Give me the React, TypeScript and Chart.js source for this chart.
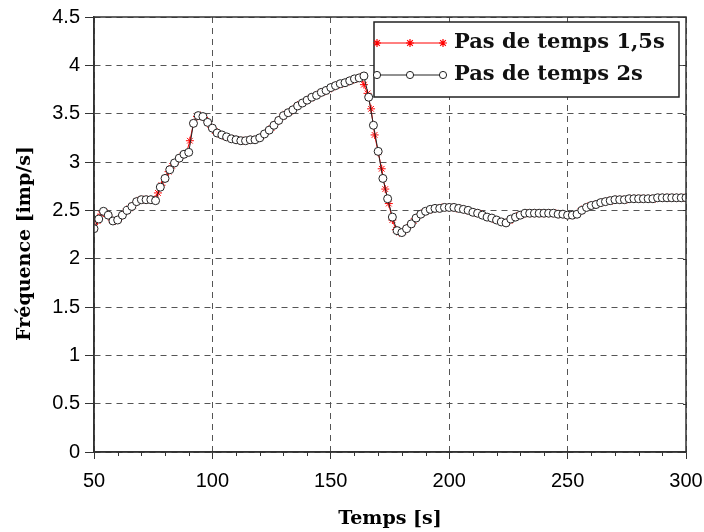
import React, { useEffect, useRef } from 'react';
import { Chart, registerables } from 'chart.js';

Chart.register(...registerables);

// ---- data ----
const T_START = 50;
const STEP_A = 1.5;
const STEP_B = 2;

const LABEL_A = 'Pas de temps 1,5s';
const LABEL_B = 'Pas de temps 2s';
const X_TITLE = 'Temps [s]';
const Y_TITLE = 'Fréquence [imp/s]';

const X_MIN = 50;
const X_MAX = 300;
const X_STEP = 50;
const X_MINOR_STEP = 10;
const Y_MIN = 0;
const Y_MAX = 4.5;
const Y_STEP = 0.5;

// Pas de temps 1,5s (t = 50, 51.5, ..., 299)
const FREQ_15S = [
  2.31, 2.39, 2.46, 2.48, 2.45, 2.40, 2.39, 2.41, 2.45, 2.49,
  2.52, 2.55, 2.59, 2.61, 2.61, 2.61, 2.61, 2.61, 2.68, 2.76,
  2.83, 2.90, 2.96, 3.00, 3.04, 3.07, 3.09, 3.22, 3.40, 3.47,
  3.48, 3.46, 3.41, 3.36, 3.32, 3.29, 3.28, 3.26, 3.25, 3.24,
  3.23, 3.22, 3.22, 3.22, 3.23, 3.23, 3.24, 3.26, 3.29, 3.32,
  3.35, 3.39, 3.43, 3.47, 3.50, 3.52, 3.54, 3.57, 3.60, 3.62,
  3.64, 3.66, 3.68, 3.70, 3.72, 3.73, 3.75, 3.77, 3.79, 3.80,
  3.81, 3.82, 3.84, 3.85, 3.86, 3.88, 3.80, 3.71, 3.55, 3.28,
  3.10, 2.93, 2.72, 2.57, 2.40, 2.30, 2.27, 2.28, 2.31, 2.35,
  2.39, 2.43, 2.46, 2.48, 2.50, 2.51, 2.52, 2.52, 2.53, 2.53,
  2.53, 2.53, 2.52, 2.52, 2.51, 2.50, 2.49, 2.48, 2.47, 2.46,
  2.44, 2.43, 2.42, 2.40, 2.39, 2.38, 2.37, 2.39, 2.42, 2.44,
  2.45, 2.46, 2.47, 2.47, 2.47, 2.47, 2.47, 2.47, 2.47, 2.47,
  2.47, 2.46, 2.46, 2.45, 2.45, 2.45, 2.46, 2.49, 2.52, 2.54,
  2.55, 2.56, 2.57, 2.58, 2.59, 2.60, 2.60, 2.61, 2.61, 2.61,
  2.61, 2.62, 2.62, 2.62, 2.62, 2.62, 2.62, 2.62, 2.62, 2.63,
  2.63, 2.63, 2.63, 2.63, 2.63, 2.63, 2.63,
];

// Pas de temps 2s (t = 50, 52, ..., 300)
const FREQ_2S = [
  2.31, 2.41, 2.49, 2.45, 2.39, 2.40, 2.45, 2.50, 2.54, 2.59,
  2.61, 2.61, 2.61, 2.60, 2.74, 2.83, 2.92, 2.99, 3.04, 3.08,
  3.10, 3.40, 3.48, 3.47, 3.41, 3.35, 3.30, 3.28, 3.26, 3.24,
  3.23, 3.22, 3.22, 3.23, 3.23, 3.25, 3.29, 3.33, 3.38, 3.43,
  3.48, 3.51, 3.54, 3.58, 3.61, 3.64, 3.67, 3.69, 3.72, 3.74,
  3.77, 3.79, 3.81, 3.82, 3.84, 3.86, 3.87, 3.89, 3.67, 3.38,
  3.11, 2.83, 2.62, 2.43, 2.29, 2.27, 2.31, 2.36, 2.42, 2.46,
  2.49, 2.51, 2.52, 2.52, 2.53, 2.53, 2.53, 2.52, 2.51, 2.50,
  2.48, 2.47, 2.45, 2.43, 2.42, 2.40, 2.38, 2.37, 2.41, 2.43,
  2.45, 2.47, 2.47, 2.47, 2.47, 2.47, 2.47, 2.47, 2.46, 2.46,
  2.45, 2.45, 2.46, 2.50, 2.53, 2.55, 2.56, 2.58, 2.59, 2.60,
  2.61, 2.61, 2.61, 2.62, 2.62, 2.62, 2.62, 2.62, 2.62, 2.63,
  2.63, 2.63, 2.63, 2.63, 2.63, 2.63,
];

const toPoints = (vals: number[], step: number) =>
  vals.map((y, i) => ({ x: T_START + i * step, y }));

const SERIF = "'DejaVu Serif', 'Liberation Serif', serif";
const SANS = "'Liberation Sans', Arial, sans-serif";

function drawStar(ctx: CanvasRenderingContext2D, x: number, y: number, r: number) {
  ctx.beginPath();
  for (let k = 0; k < 4; k++) {
    const a = (k * Math.PI) / 4;
    ctx.moveTo(x - r * Math.cos(a), y - r * Math.sin(a));
    ctx.lineTo(x + r * Math.cos(a), y + r * Math.sin(a));
  }
  ctx.stroke();
}

const minorTicksPlugin = {
  id: 'minorTicks',
  afterDraw(chart: any) {
    const ctx = chart.ctx;
    const xs = chart.scales.x;
    const ys = chart.scales.y;
    const { bottom, right } = chart.chartArea;
    ctx.save();
    ctx.strokeStyle = '#333';
    ctx.lineWidth = 1;
    for (let v = X_MIN; v <= X_MAX; v += X_MINOR_STEP) {
      if (v % X_STEP === 0) continue;
      const px = Math.round(xs.getPixelForValue(v)) + 0.5;
      ctx.beginPath();
      ctx.moveTo(px, bottom);
      ctx.lineTo(px, bottom + 4);
      ctx.stroke();
    }
    for (let v = Y_MIN; v <= Y_MAX + 1e-9; v += Y_STEP) {
      const py = Math.round(ys.getPixelForValue(v)) + 0.5;
      ctx.beginPath();
      ctx.moveTo(right - 3, py);
      ctx.lineTo(right, py);
      ctx.stroke();
    }
    ctx.restore();
  },
};

const framePlugin = {
  id: 'frame',
  afterDraw(chart: any) {
    const ctx = chart.ctx;
    const { left, right, top, bottom } = chart.chartArea;
    ctx.save();
    ctx.strokeStyle = '#333';
    ctx.lineWidth = 1.5;
    ctx.strokeRect(left, top, right - left, bottom - top);
    ctx.restore();
  },
};

const yTitlePlugin = {
  id: 'yTitle',
  afterDraw(chart: any) {
    const ctx = chart.ctx;
    const { top, bottom } = chart.chartArea;
    ctx.save();
    ctx.translate(25, (top + bottom) / 2 + 9);
    ctx.rotate(-Math.PI / 2);
    ctx.fillStyle = '#000';
    ctx.font = `bold 19px ${SERIF}`;
    ctx.textAlign = 'center';
    ctx.textBaseline = 'middle';
    ctx.fillText(Y_TITLE, 0, 0);
    ctx.restore();
  },
};

const legendPlugin = {
  id: 'boxLegend',
  afterDraw(chart: any) {
    const ctx = chart.ctx;
    const ds = chart.data.datasets;
    const { right, top } = chart.chartArea;
    const boxW = 305;
    const boxH = 75;
    const bx = right - 7 - boxW;
    const by = top + 5;
    ctx.save();
    ctx.fillStyle = '#fff';
    ctx.fillRect(bx, by, boxW, boxH);
    ctx.strokeStyle = '#222';
    ctx.lineWidth = 1.5;
    ctx.strokeRect(bx, by, boxW, boxH);
    const rows = [by + 21, by + 53];
    ds.forEach((d: any, i: number) => {
      const y = rows[i];
      const x0 = bx + 3;
      const x1 = bx + 69;
      ctx.strokeStyle = d.borderColor;
      ctx.lineWidth = 1;
      ctx.beginPath();
      ctx.moveTo(x0, y);
      ctx.lineTo(x1, y);
      ctx.stroke();
      [x0, (x0 + x1) / 2, x1].forEach((mx) => {
        if (d.pointStyle === 'star') {
          ctx.strokeStyle = d.pointBorderColor;
          ctx.lineWidth = 1.2;
          drawStar(ctx, mx, y, 4);
        } else {
          ctx.fillStyle = '#fff';
          ctx.strokeStyle = d.pointBorderColor;
          ctx.lineWidth = 1;
          ctx.beginPath();
          ctx.arc(mx, y, 3.6, 0, Math.PI * 2);
          ctx.fill();
          ctx.stroke();
        }
      });
      ctx.fillStyle = '#111';
      ctx.font = `bold 21px ${SERIF}`;
      ctx.textAlign = 'left';
      ctx.textBaseline = 'middle';
      ctx.fillText(d.label, bx + 80, y);
    });
    ctx.restore();
  },
};

export default function App() {
  const ref = useRef<HTMLCanvasElement | null>(null);

  useEffect(() => {
    document.body.style.margin = '0';
    const canvas = ref.current;
    if (!canvas) return;
    const chart = new Chart(canvas, {
      type: 'line',
      data: {
        datasets: [
          {
            label: LABEL_A,
            data: toPoints(FREQ_15S, STEP_A),
            borderColor: '#ff0000',
            borderWidth: 1,
            pointStyle: 'star',
            pointRadius: 4,
            pointBorderColor: '#ff0000',
            pointBorderWidth: 1,
            pointBackgroundColor: '#ff0000',
            fill: false,
            tension: 0,
            order: 1,
          } as any,
          {
            label: LABEL_B,
            data: toPoints(FREQ_2S, STEP_B),
            borderColor: '#222',
            borderWidth: 1,
            pointStyle: 'circle',
            pointRadius: 4,
            pointBorderColor: '#222',
            pointBorderWidth: 1,
            pointBackgroundColor: '#ffffff',
            fill: false,
            tension: 0,
            order: 0,
          } as any,
        ],
      },
      options: {
        animation: false,
        responsive: false,
        events: [],
        layout: { padding: { left: 0, right: 18, top: 17, bottom: 0 } },
        plugins: {
          legend: { display: false },
          tooltip: { enabled: false },
        },
        scales: {
          x: {
            type: 'linear',
            min: X_MIN,
            max: X_MAX,
            afterFit: (s: any) => {
              s.height = 80;
              s.paddingLeft = 0;
              s.paddingRight = 0;
            },
            afterBuildTicks: (s: any) => {
              const t = [];
              for (let v = X_MIN; v <= X_MAX; v += X_STEP) t.push({ value: v });
              s.ticks = t;
            },
            ticks: {
              color: '#000',
              font: { family: SANS, size: 20 },
              padding: 10,
              maxRotation: 0,
              callback: (v: any) => String(v),
            },
            grid: {
              color: '#555',
              lineWidth: 1,
              tickLength: 7,
              tickColor: '#333',
              tickBorderDash: [],
            },
            border: { display: true, color: '#333', width: 1.5, dash: [6, 5] },
            title: {
              display: true,
              text: X_TITLE,
              color: '#000',
              font: { family: SERIF, size: 19, weight: 'bold' },
              padding: { top: 0, bottom: 2 },
            },
          },
          y: {
            type: 'linear',
            min: Y_MIN,
            max: Y_MAX,
            afterFit: (s: any) => { s.width = 94; },
            afterBuildTicks: (s: any) => {
              const t = [];
              for (let v = Y_MIN; v <= Y_MAX + 1e-9; v += Y_STEP) t.push({ value: Math.round(v * 10) / 10 });
              s.ticks = t;
            },
            ticks: {
              color: '#000',
              font: { family: SANS, size: 20 },
              padding: 5,
              callback: (v: any) => String(v),
            },
            grid: {
              color: '#555',
              lineWidth: 1,
              tickLength: 9,
              tickColor: '#333',
              tickBorderDash: [],
            },
            border: { display: true, color: '#333', width: 1.5, dash: [6, 5] },
            title: { display: false },
          },
        },
      } as any,
      plugins: [minorTicksPlugin, framePlugin, yTitlePlugin, legendPlugin],
    });
    return () => chart.destroy();
  }, []);

  return (
    <div style={{ width: 704, height: 532 }}>
      <canvas ref={ref} width={704} height={532} style={{ display: 'block' }} />
    </div>
  );
}
